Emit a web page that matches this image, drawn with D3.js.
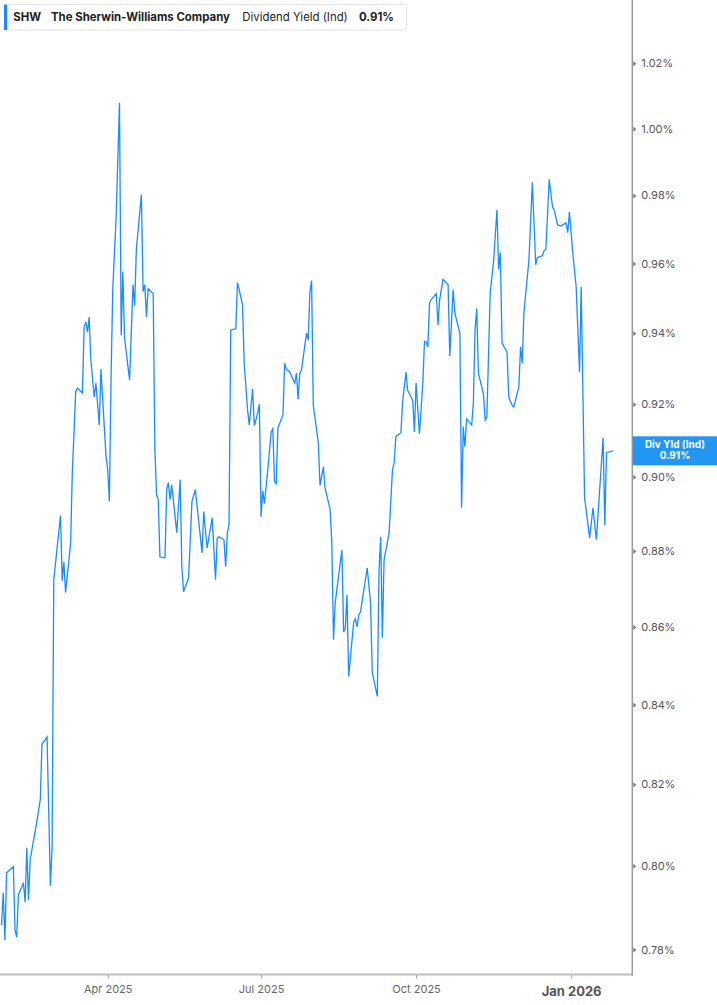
<!DOCTYPE html>
<html>
<head>
<meta charset="utf-8">
<script src="https://cdn.jsdelivr.net/npm/d3@7"></script>
<style>
  html, body { margin: 0; padding: 0; background: #fff; }
  svg { display: block; font-family: Inter, "Noto Sans", Roboto, sans-serif; }
</style>
</head>
<body>
<svg id="chart" width="717" height="1005"></svg>
<script>
// ---- data ----
const dates = [
"2025-01-28","2025-01-29","2025-01-30","2025-01-31","2025-02-04","2025-02-05","2025-02-06","2025-02-07","2025-02-10","2025-02-11","2025-02-12","2025-02-13","2025-02-14","2025-02-18","2025-02-20","2025-02-21","2025-02-24","2025-02-26","2025-02-27","2025-02-28",
"2025-03-04","2025-03-05","2025-03-06","2025-03-07","2025-03-10","2025-03-11","2025-03-13","2025-03-14","2025-03-17","2025-03-18","2025-03-19","2025-03-20","2025-03-21","2025-03-22","2025-03-24","2025-03-25","2025-03-27","2025-03-28","2025-03-31",
"2025-04-01","2025-04-02","2025-04-03","2025-04-04","2025-04-06","2025-04-08","2025-04-09","2025-04-10","2025-04-11","2025-04-14","2025-04-16","2025-04-17","2025-04-18","2025-04-21","2025-04-22","2025-04-23","2025-04-24","2025-04-25","2025-04-28","2025-04-29","2025-04-30",
"2025-05-01","2025-05-02","2025-05-05","2025-05-06","2025-05-07","2025-05-08","2025-05-09","2025-05-12","2025-05-14","2025-05-15","2025-05-16","2025-05-19","2025-05-21","2025-05-23","2025-05-27","2025-05-28","2025-05-30",
"2025-06-02","2025-06-04","2025-06-05","2025-06-06","2025-06-09","2025-06-10","2025-06-11","2025-06-12","2025-06-13","2025-06-16","2025-06-17","2025-06-18","2025-06-20","2025-06-21","2025-06-23","2025-06-24","2025-06-26","2025-06-27","2025-06-29","2025-06-30",
"2025-07-01","2025-07-02","2025-07-03","2025-07-05","2025-07-07","2025-07-08","2025-07-09","2025-07-10","2025-07-11","2025-07-14","2025-07-15","2025-07-16","2025-07-18","2025-07-21","2025-07-22","2025-07-23","2025-07-24","2025-07-25","2025-07-28","2025-07-29","2025-07-30","2025-07-31",
"2025-08-01","2025-08-04","2025-08-05","2025-08-07","2025-08-08","2025-08-11","2025-08-12","2025-08-13","2025-08-14","2025-08-18","2025-08-19","2025-08-20","2025-08-21","2025-08-22","2025-08-25","2025-08-26","2025-08-27","2025-08-28","2025-08-29",
"2025-09-02","2025-09-04","2025-09-05","2025-09-08","2025-09-09","2025-09-10","2025-09-11","2025-09-12","2025-09-15","2025-09-17","2025-09-18","2025-09-19","2025-09-22","2025-09-23","2025-09-25","2025-09-26","2025-09-29","2025-09-30",
"2025-10-01","2025-10-03","2025-10-05","2025-10-06","2025-10-07","2025-10-08","2025-10-09","2025-10-10","2025-10-13","2025-10-14","2025-10-15","2025-10-17","2025-10-20","2025-10-21","2025-10-23","2025-10-24","2025-10-27","2025-10-28","2025-10-29","2025-10-30","2025-10-31",
"2025-11-03","2025-11-04","2025-11-05","2025-11-06","2025-11-07","2025-11-10","2025-11-11","2025-11-12","2025-11-14","2025-11-16","2025-11-18","2025-11-19","2025-11-20","2025-11-21","2025-11-24","2025-11-25","2025-11-27","2025-11-28",
"2025-12-01","2025-12-02","2025-12-03","2025-12-04","2025-12-07","2025-12-09","2025-12-11","2025-12-12","2025-12-15","2025-12-16","2025-12-17","2025-12-19","2025-12-21","2025-12-22","2025-12-24","2025-12-26","2025-12-29","2025-12-30","2025-12-31",
"2026-01-02","2026-01-04","2026-01-06","2026-01-07","2026-01-09","2026-01-12","2026-01-14","2026-01-16","2026-01-20","2026-01-21","2026-01-22","2026-01-26"
];

const yieldValues = [
0.7858,0.7935,0.7822,0.7983,0.7998,0.7846,0.7829,0.7930,0.7959,0.7913,0.8044,0.7918,0.8015,0.8109,0.8163,0.8300,0.8318,0.7952,0.8044,0.8724,
0.8895,0.8721,0.8771,0.8690,0.8822,0.9011,0.9234,0.9245,0.9231,0.9417,0.9432,0.9403,0.9446,0.9324,0.9220,0.9259,0.9142,0.9298,0.9055,
0.9019,0.8933,0.9276,0.9525,0.9736,1.0079,0.9394,0.9577,0.9386,0.9267,0.9539,0.9478,0.9641,0.9803,0.9519,0.9539,0.9446,0.9528,0.9513,0.9074,0.8951,
0.8938,0.8784,0.8782,0.8965,0.8984,0.8938,0.8978,0.8849,0.8992,0.8758,0.8692,0.8729,0.8933,0.8965,0.8795,0.8906,0.8808,
0.8889,0.8724,0.8835,0.8838,0.8830,0.8758,0.8849,0.8870,0.9409,0.9412,0.9545,0.9525,0.9481,0.9315,0.9184,0.9142,0.9242,0.9140,0.9175,0.9200,
0.8892,0.8962,0.8927,0.9019,0.9123,0.9132,0.8987,0.8981,0.9134,0.9170,0.9315,0.9298,0.9290,0.9259,0.9287,0.9214,0.9287,0.9296,0.9400,0.9380,0.9519,0.9551,
0.9197,0.9093,0.8976,0.9027,0.8970,0.8911,0.8822,0.8567,0.8663,0.8803,0.8587,0.8597,0.8684,0.8472,0.8613,0.8621,0.8600,0.8632,0.8639,
0.8755,0.8663,0.8482,0.8421,0.8745,0.8838,0.8572,0.8776,0.8849,0.9019,0.9038,0.9110,0.9121,0.9206,0.9290,0.9239,0.9211,0.9123,
0.9259,0.9118,0.9259,0.9377,0.9375,0.9361,0.9487,0.9496,0.9513,0.9423,0.9496,0.9554,0.9539,0.9335,0.9525,0.9458,0.9400,0.8916,0.9137,0.9082,0.9159,
0.9142,0.9203,0.9409,0.9470,0.9287,0.9228,0.9156,0.9164,0.9516,0.9606,0.9757,0.9583,0.9632,0.9372,0.9346,0.9220,0.9197,0.9192,
0.9248,0.9361,0.9315,0.9458,0.9612,0.9839,0.9597,0.9617,0.9623,0.9638,0.9641,0.9848,0.9765,0.9757,0.9713,0.9710,0.9719,0.9690,0.9751,
0.9632,0.9533,0.9290,0.9533,0.8943,0.8835,0.8916,0.8830,0.9107,0.8868,0.9066,0.9071
];

const yTickValues = [0.78,0.80,0.82,0.84,0.86,0.88,0.90,0.92,0.94,0.96,0.98,1.00,1.02];
const xTickDates = ["2025-04-01","2025-07-01","2025-10-01","2026-01-01"];
const xTickLabels = ["Apr 2025","Jul 2025","Oct 2025","Jan 2026"];

const ticker = "SHW";
const company = "The Sherwin-Williams Company";
const metricName = "Dividend Yield (Ind)";
const tagName = "Div Yld (Ind)";

// ---- layout ----
const W = 717, H = 1005;
const plotRight = 632.3, plotBottom = 974.5;
const lineColor = "#1a8cff";
const parse = d3.timeParse("%Y-%m-%d");

const data = dates.map((d, i) => ({ date: parse(d), value: yieldValues[i] }));
const lastVal = data[data.length - 1].value;
const fmt = v => v.toFixed(2) + "%";

const svg = d3.select("#chart");

const x = d3.scaleTime()
  .domain([parse("2025-04-01"), parse("2026-01-01")])
  .range([107.7, 571.1]);

const y = d3.scaleLog()
  .domain([0.78, 1.02])
  .range([949.5, 63.3]);

// clip
svg.append("defs").append("clipPath").attr("id", "plotclip")
  .append("rect").attr("x", 0).attr("y", 0).attr("width", plotRight).attr("height", plotBottom);

// line
const line = d3.line().x(d => x(d.date)).y(d => y(d.value));
svg.append("path")
  .datum(data)
  .attr("clip-path", "url(#plotclip)")
  .attr("fill", "none")
  .attr("stroke", lineColor)
  .attr("stroke-width", 1.3)
  .attr("stroke-linejoin", "miter")
  .attr("d", line);

// bottom axis
const xAxis = d3.axisBottom(x)
  .tickValues(xTickDates.map(parse))
  .tickSize(4)
  .tickSizeOuter(0)
  .tickFormat((d, i) => xTickLabels[i]);
const gx = svg.append("g").attr("transform", `translate(0,${plotBottom})`).call(xAxis);
gx.select(".domain").remove();
gx.selectAll(".tick line").attr("stroke", "#9a9a9a").attr("stroke-width", 1);
gx.selectAll(".tick text")
  .attr("y", 11)
  .attr("dy", "0.71em")
  .attr("fill", "#666")
  .style("font-size", "11px")
  .style("font-family", "Inter, Roboto, sans-serif");
gx.selectAll(".tick text").filter((d, i) => xTickLabels[i].startsWith("Jan"))
  .attr("y", 12.5)
  .attr("fill", "#555")
  .style("font-size", "13px")
  .style("font-weight", "700");
svg.append("line")
  .attr("x1", 0).attr("x2", plotRight)
  .attr("y1", plotBottom).attr("y2", plotBottom)
  .attr("stroke", "#bdbdbd").attr("stroke-width", 2);

// right axis
svg.append("line")
  .attr("x1", plotRight).attr("x2", plotRight)
  .attr("y1", 0).attr("y2", plotBottom + 1)
  .attr("stroke", "#9a9a9a").attr("stroke-width", 1.5);

const yAxis = d3.axisRight(y)
  .tickValues(yTickValues)
  .tickSize(0)
  .tickPadding(9)
  .tickFormat(fmt);
const gy = svg.append("g").attr("transform", `translate(${plotRight},0)`).call(yAxis);
gy.select(".domain").remove();
gy.selectAll(".tick text")
  .attr("fill", "#555")
  .style("font-size", "11px")
  .style("font-family", "Inter, Roboto, sans-serif");
gy.selectAll(".tick").append("path")
  .attr("d", "M1,-2.5L4,0L1,2.5Z")
  .attr("fill", "#777");

// last value tag
const tagY = y(lastVal);
const tag = svg.append("g");
tag.append("rect")
  .attr("x", plotRight + 0.5).attr("y", tagY - 14.5)
  .attr("width", W - plotRight).attr("height", 29)
  .attr("fill", "#2196f3");
tag.append("text")
  .attr("x", 675).attr("y", tagY - 3)
  .attr("text-anchor", "middle")
  .attr("fill", "#fff")
  .style("font-size", "10px").style("font-weight", "700")
  .text(tagName);
tag.append("text")
  .attr("x", 675).attr("y", tagY + 8.5)
  .attr("text-anchor", "middle")
  .attr("fill", "#fff")
  .style("font-size", "10px").style("font-weight", "700")
  .text(fmt(lastVal));

// legend
const lg = svg.append("g");
lg.append("rect")
  .attr("x", 4.5).attr("y", 4.5).attr("width", 402).attr("height", 25.5)
  .attr("rx", 3).attr("fill", "#fff").attr("stroke", "#e3e3e3");
lg.append("rect")
  .attr("x", 4).attr("y", 4.5).attr("width", 3.2).attr("height", 25.5)
  .attr("fill", lineColor);
const legendItems = [
  { text: ticker, x: 13.3, w: 700 },
  { text: company, x: 51, w: 700 },
  { text: metricName, x: 242.3, w: 400 },
  { text: fmt(lastVal), x: 359, w: 700 }
];
lg.selectAll("text.leg").data(legendItems).enter().append("text")
  .attr("class", "leg")
  .attr("x", d => d.x).attr("y", 21)
  .attr("fill", "#222")
  .style("font-size", "11.4px")
  .style("font-weight", d => d.w)
  .text(d => d.text);
</script>
</body>
</html>
